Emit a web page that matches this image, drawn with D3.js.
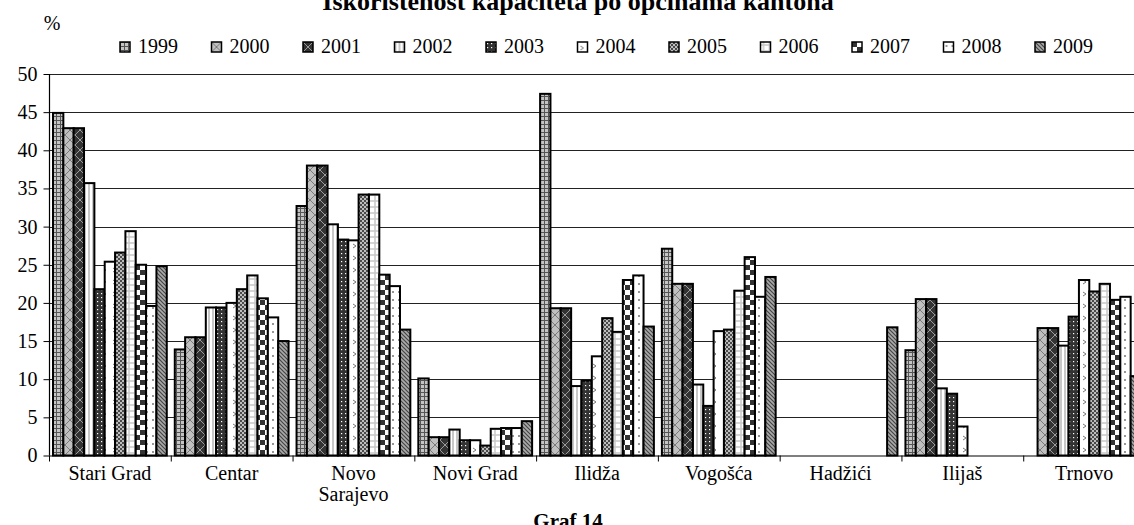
<!DOCTYPE html>
<html><head><meta charset="utf-8">
<script src="https://cdn.jsdelivr.net/npm/d3@7"></script>
<style>html,body{margin:0;padding:0;background:#fff;overflow:hidden}svg{display:block}
svg text{font-family:"Liberation Serif","Times New Roman",serif !important;}</style>
</head><body><svg id="c" width="1134" height="525"></svg>
<script>
const title = "Iskorištenost kapaciteta po općinama kantona";
const caption = "Graf 14";
const unitLabel = "%";
const categories = ["Stari Grad","Centar","Novo Sarajevo","Novi Grad","Ilidža","Vogošća","Hadžići","Ilijaš","Trnovo"];
const years = ["1999","2000","2001","2002","2003","2004","2005","2006","2007","2008","2009"];
const v1999 = [44.9, 13.9, 32.7, 10.1, 47.4, 27.1, null, 13.8, null];
const v2000 = [42.9, 15.5, 38.0, 2.4, 19.3, 22.5, null, 20.5, 16.7];
const v2001 = [42.9, 15.5, 38.0, 2.4, 19.3, 22.5, null, 20.5, 16.7];
const v2002 = [35.7, 19.4, 30.3, 3.4, 9.1, 9.3, null, 8.8, 14.4];
const v2003 = [21.8, 19.4, 28.3, 2.0, 9.8, 6.5, null, 8.1, 18.2];
const v2004 = [25.4, 20.0, 28.2, 2.0, 13.0, 16.3, null, 3.8, 23.0];
const v2005 = [26.6, 21.8, 34.2, 1.3, 18.0, 16.5, null, null, 21.5];
const v2006 = [29.4, 23.6, 34.2, 3.5, 16.2, 21.6, null, null, 22.5];
const v2007 = [25.0, 20.6, 23.7, 3.6, 23.0, 26.0, null, null, 20.4];
const v2008 = [19.6, 18.1, 22.2, 3.6, 23.6, 20.8, null, null, 20.8];
const v2009 = [24.8, 15.0, 16.5, 4.5, 16.9, 23.4, 16.8, null, 10.4];
const yTicks = [0,5,10,15,20,25,30,35,40,45,50];

const series = [v1999,v2000,v2001,v2002,v2003,v2004,v2005,v2006,v2007,v2008,v2009];

const svg = d3.select("#c");
const FONT = "Liberation Serif, Times New Roman, serif";
const defs = svg.append("defs");

function pat(id, w, h, build){
  const p = defs.append("pattern").attr("id", id).attr("patternUnits","userSpaceOnUse")
    .attr("width", w).attr("height", h);
  build(p);
}
pat("p0", 4, 4, p => {
  p.append("rect").attr("width",4).attr("height",4).attr("fill","#c4c4c4");
  p.append("path").attr("d","M0,0.5H4M0.5,0V4").attr("stroke","#555").attr("stroke-width",1);
});
pat("p1", 10, 10, p => {
  p.append("rect").attr("width",10).attr("height",10).attr("fill","#c0c0c0");
  p.append("path").attr("d","M0,0L10,10M10,0L0,10").attr("stroke","#7a7a7a").attr("stroke-width",1);
});
pat("p2", 10, 10, p => {
  p.append("rect").attr("width",10).attr("height",10).attr("fill","#333");
  p.append("path").attr("d","M0,0L10,10M10,0L0,10").attr("stroke","#9a9a9a").attr("stroke-width",1);
});
pat("p3", 4, 4, p => {
  p.append("rect").attr("width",4).attr("height",4).attr("fill","#fff");
  p.append("rect").attr("x",0).attr("width",2).attr("height",4).attr("fill","#c8c8c8");
});
pat("p4", 4, 4, p => {
  p.append("rect").attr("width",4).attr("height",4).attr("fill","#333");
  p.append("rect").attr("x",1).attr("y",1).attr("width",1.2).attr("height",1.2).attr("fill","#fff");
});
pat("p5", 10, 12, p => {
  p.append("rect").attr("width",10).attr("height",12).attr("fill","#fff");
  p.append("path").attr("d","M3,4L6,6L3,8").attr("stroke","#777").attr("fill","none").attr("stroke-width",1);
});
pat("p6", 4, 4, p => {
  p.append("rect").attr("width",4).attr("height",4).attr("fill","#bdbdbd");
  p.append("rect").attr("width",2).attr("height",2).attr("fill","#4a4a4a");
  p.append("rect").attr("x",2).attr("y",2).attr("width",2).attr("height",2).attr("fill","#4a4a4a");
});
pat("p7", 6, 6, p => {
  p.append("rect").attr("width",6).attr("height",6).attr("fill","#fff");
  p.append("path").attr("d","M0,3H6M3,0V6").attr("stroke","#c8c8c8").attr("stroke-width",1.5);
});
pat("p8", 10, 10, p => {
  p.append("rect").attr("width",10).attr("height",10).attr("fill","#fff");
  p.append("rect").attr("width",5).attr("height",5).attr("fill","#333");
  p.append("rect").attr("x",5).attr("y",5).attr("width",5).attr("height",5).attr("fill","#333");
});
pat("p9", 6, 8, p => {
  p.append("rect").attr("width",6).attr("height",8).attr("fill","#fff");
  p.append("circle").attr("cx",3).attr("cy",4).attr("r",0.9).attr("fill","#666");
});
pat("p10", 4, 4, p => {
  p.append("rect").attr("width",4).attr("height",4).attr("fill","#aaa");
  p.append("path").attr("d","M0,0L4,4M-1,3L1,5M3,-1L5,1").attr("stroke","#444").attr("stroke-width",1.2);
});

const x0 = d3.scaleBand().domain(categories).range([49, 1145]).paddingInner(0).paddingOuter(0);
const x1 = d3.scaleBand().domain(years).range([4, x0.bandwidth()-4]).padding(0);
const y = d3.scaleLinear().domain([0,50]).range([455.5, 74]);

svg.append("g").selectAll("line").data(yTicks.filter(d=>d>0)).join("line")
  .attr("x1", 49).attr("x2", 1145).attr("y1", d=>Math.round(y(d))+0.5).attr("y2", d=>Math.round(y(d))+0.5)
  .attr("stroke","#222").attr("stroke-width",1.2);

const rows = [];
categories.forEach((c,ci)=>{
  years.forEach((yr,si)=>{
    const v = series[si][ci];
    if (v !== null) rows.push({c, yr, si, v});
  });
});
svg.append("g").selectAll("rect").data(rows).join("rect")
  .attr("x", d=>x0(d.c)+x1(d.yr))
  .attr("y", d=>y(d.v))
  .attr("width", x1.bandwidth())
  .attr("height", d=>y(0)-y(d.v))
  .attr("fill", d=>`url(#p${d.si})`)
  .attr("stroke","#000").attr("stroke-width",2);

const yAxis = d3.axisLeft(y).tickValues(yTicks).tickSize(6).tickPadding(6).tickFormat(d3.format("d"));
const gy = svg.append("g").attr("transform","translate(49.5,0)").call(yAxis);
gy.attr("font-family", FONT);
gy.select(".domain").attr("stroke","#000").attr("stroke-width",1.2).attr("d","M0,"+y(50)+"V"+y(0));
gy.selectAll(".tick line").attr("stroke","#000");
gy.selectAll("text").style("font-family",FONT).style("font-size","20px").attr("fill","#000");

const xAxis = d3.axisBottom(x0).tickSize(0).tickPadding(12).tickFormat("");
const gx = svg.append("g").attr("transform",`translate(0,${y(0)})`).call(xAxis);
gx.select(".domain").attr("stroke","#000").attr("stroke-width",1.2);
const bounds = categories.map(c=>x0(c)).concat([x0(categories[categories.length-1])+x0.bandwidth()]);
gx.selectAll("line.bt").data(bounds).join("line").attr("class","bt")
  .attr("x1",d=>d+0.5).attr("x2",d=>d+0.5).attr("y1",0).attr("y2",6).attr("stroke","#000");

const lab = svg.append("g");
categories.forEach(c=>{
  const cx = x0(c)+x0.bandwidth()/2;
  const words = c==="Novo Sarajevo" ? ["Novo","Sarajevo"] : [c];
  words.forEach((w,i)=>{
    lab.append("text").attr("x",cx).attr("y",480+i*21).attr("text-anchor","middle")
      .style("font-family",FONT).style("font-size","20px").text(w);
  });
});

svg.append("text").attr("x",578).attr("y",10).attr("text-anchor","middle")
  .style("font-family",FONT).style("font-size","26px").style("font-weight","bold").text(title);
svg.append("text").attr("x",52).attr("y",30).attr("text-anchor","middle")
  .style("font-family",FONT).style("font-size","20px").text(unitLabel);
svg.append("text").attr("x",568).attr("y",528).attr("text-anchor","middle")
  .style("font-family",FONT).style("font-size","21px").style("font-weight","bold").text(caption);

const legX = d3.scalePoint().domain(years).range([120, 1035]);
const leg = svg.append("g").selectAll("g").data(years).join("g")
  .attr("transform", d=>`translate(${legX(d)},42)`);
leg.append("rect").attr("width",10).attr("height",10)
  .attr("fill",(d,i)=>`url(#p${i})`).attr("stroke","#000").attr("stroke-width",1.5);
leg.append("text").attr("x",18).attr("y",11).style("font-family",FONT).style("font-size","20px").text(d=>d);
</script></body></html>
